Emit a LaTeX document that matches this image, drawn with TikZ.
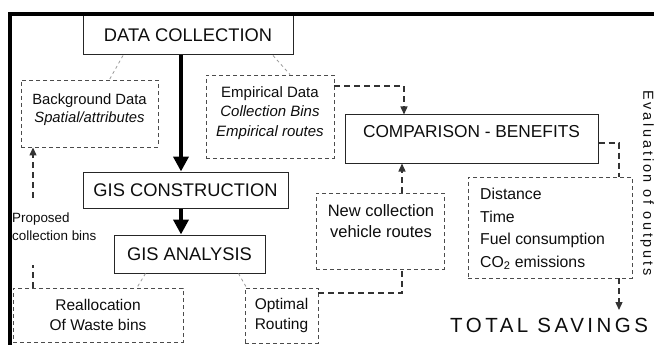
\documentclass[tikz,border=0pt]{standalone}
\usepackage{fontspec}
\setmainfont{Liberation Sans}
\usetikzlibrary{arrows.meta}
\begin{document}
\begin{tikzpicture}[x=1pt,y=-1pt,
  solidbox/.style={draw=black!85, line width=1pt, inner sep=0pt, align=center, text=black!95},
  dashbox/.style={draw=black!70, line width=0.9pt, dash pattern=on 4pt off 3pt, inner sep=0pt, align=center, text=black!95},
  txt/.style={inner sep=0pt, align=center, text=black!95},
  title/.style={font=\fontsize{18.3}{22}\selectfont},
  thickarrow/.style={line width=4pt, black, -{Triangle[length=15pt,width=15pt]}},
  dashconn/.style={line width=1.3pt, black!80, dash pattern=on 6pt off 4pt},
  dasharrow/.style={dashconn, -{Triangle[length=8pt,width=7pt]}},
  greyconn/.style={line width=0.8pt, black!40, dash pattern=on 3pt off 3pt},
]
\useasboundingbox (0,0) rectangle (654,345);

% boxes
\node[solidbox, title, minimum width=210pt, minimum height=40pt] (DC) at (188,35) {DATA COLLECTION};
\node[dashbox, minimum width=137pt, minimum height=67pt] (BG) at (89.5,113.5) {};
\node[txt, font=\fontsize{14.8}{18}\selectfont] (BGt) at (89.5,110) {Background Data\\\textit{Spatial/attributes}};
\node[dashbox, minimum width=128pt, minimum height=83pt] (EMP) at (270,116.5) {};
\node[txt, font=\fontsize{15}{19.5}\selectfont] (EMPt) at (270,113) {Empirical Data\\\textit{Collection Bins}\\\textit{Empirical routes}};
\node[solidbox, minimum width=253pt, minimum height=48pt] (CMP) at (471.5,139) {};
\node[txt, font=\fontsize{17.3}{21}\selectfont] (CMPt) at (471.5,132) {COMPARISON - BENEFITS};
\node[solidbox, title, minimum width=205pt, minimum height=36pt] (GC) at (185.5,190) {GIS CONSTRUCTION};
\node[solidbox, title, minimum width=151pt, minimum height=38pt] (GA) at (189.5,254) {GIS ANALYSIS};
\node[dashbox, minimum width=128pt, minimum height=76pt] (NEW) at (380,231) {};
\node[txt, font=\fontsize{16.5}{21.7}\selectfont] (NEWt) at (381,221) {New collection\\vehicle routes};
\node[dashbox, minimum width=164pt, minimum height=101pt] (DIST) at (550,227.5) {};
\node[txt, align=left, anchor=west, font=\fontsize{15.8}{22.5}\selectfont] (DISTt) at (480,229) {Distance\\Time\\Fuel consumption\\CO\textsubscript{2} emissions};
\node[dashbox, minimum width=170pt, minimum height=54pt, font=\fontsize{15.5}{20}\selectfont] (REA) at (98,315) {Reallocation\\Of Waste bins};
\node[dashbox, minimum width=73pt, minimum height=55pt, font=\fontsize{15.5}{20}\selectfont] (OPT) at (281.5,315.5) {Optimal\\Routing};
\node[txt, align=left, anchor=west, font=\fontsize{13.4}{18}\selectfont] (PROP) at (12,227) {Proposed\\collection bins};
\node[txt, anchor=west, font=\fontsize{20.5}{24}\selectfont\addfontfeature{LetterSpace=17}] (TOT) at (450,325) {TOTAL SAVINGS};
\node[txt, rotate=-90, font=\fontsize{14.5}{17}\selectfont\addfontfeature{LetterSpace=19}] (EVAL) at (647,183) {Evaluation of outputs};

% solid arrows
\draw[thickarrow] ([xshift=-7pt]DC.south) -- ([xshift=-4.5pt]GC.north);
\draw[thickarrow] ([xshift=-4.5pt]GC.south) -- ([xshift=-8.5pt]GA.north);

% grey dashed links
\draw[greyconn] ([xshift=-65pt]DC.south) -- ([xshift=20pt]BG.north);
\draw[greyconn] ([xshift=85pt]DC.south) -- ([xshift=20pt]EMP.north);
\draw[greyconn] ([xshift=-44pt]GA.south) -- ([xshift=39pt]REA.north);
\draw[greyconn] ([xshift=49pt]GA.south) -- ([xshift=-35pt]OPT.north);

% dashed connectors
\coordinate (c1) at (404,86);
\draw[dasharrow] (EMP.east |- c1) -- (c1) -- (c1 |- CMP.north);
\coordinate (c2) at (619,143);
\draw[dashconn] (CMP.east |- c2) -- (c2) -- (c2 |- DIST.north);
\draw[dasharrow] (c2 |- DIST.south) -- (c2 |- 0,310);
\coordinate (c3) at (402,293);
\draw[dasharrow] (c3 |- NEW.north) -- (c3 |- CMP.south);
\draw[dashconn] (OPT.east |- c3) -- (c3) -- (c3 |- NEW.south);
\coordinate (p1) at (33,265);
\coordinate (p2) at (33,198);
\draw[dashconn] (p1 |- REA.north) -- (p1);
\draw[dasharrow] (p2) -- (p2 |- BG.south);

% frame
\draw[line width=4pt, black, line join=miter] (10,345) -- (10,14) -- (654,14);
\end{tikzpicture}
\end{document}
